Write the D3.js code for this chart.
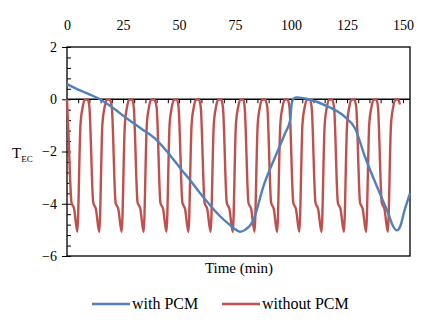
<!DOCTYPE html>
<html>
<head>
<meta charset="utf-8">
<script src="https://cdn.jsdelivr.net/npm/d3@7"></script>
<style>
  body { margin: 0; background: #fff; }
  svg text { font-family: "Liberation Serif", "Times New Roman", serif; fill: #000; }
</style>
</head>
<body>
<svg id="chart" width="438" height="326"></svg>
<script>
// Series: with PCM (time in min, T_EC)
const timeWith = [0, 5, 10, 14.7, 20, 26.6, 33, 40, 46, 51.2, 54.9, 59, 63.8, 68, 72.8, 75.5, 77.2, 79.5,
    83.2, 87.6, 93.6, 97.3, 99.6, 100.3, 101.2, 102.5, 107.7, 116.6, 124, 128.6, 133, 139, 143.4,
    145.5, 147.2, 148.8, 150.5, 153.1];
const withPcm = [0.58, 0.37, 0.19, 0, -0.3, -0.73, -1.12, -1.56, -2.14, -2.71, -3.09, -3.55, -4.05, -4.45,
    -4.82, -5.0, -5.07, -5.0, -4.63, -3.35, -2.07, -1.31, -0.8, -0.16, 0.03, 0.07, 0, -0.28, -0.67,
    -1.12, -2.2, -3.48, -4.37, -4.85, -5.02, -4.85, -4.3, -3.6];

// Series: without PCM
const timeWithout = [0, 0.6, 2.0, 3.2, 4.6,
    6.0, 7.0, 7.9, 9.2, 10.0, 11.7, 12.9, 14.4,
    15.8, 16.8, 17.7, 19.0, 20.0, 21.7, 22.9, 24.4,
    25.8, 26.8, 27.7, 29.0, 29.8, 31.5, 32.7, 34.2,
    35.6, 36.6, 37.5, 38.8, 40.0, 41.7, 42.9, 44.4,
    45.8, 46.8, 47.7, 49.0, 49.8, 51.5, 52.7, 54.2,
    55.6, 56.6, 57.5, 58.8, 59.7, 61.4, 62.6, 64.1,
    65.5, 66.5, 67.4, 68.7, 69.6, 71.3, 72.5, 74.0,
    75.4, 76.4, 77.3, 78.6, 79.3, 81.0, 82.2, 83.7,
    85.1, 86.1, 87.0, 88.3, 89.4, 91.1, 92.3, 93.8,
    95.2, 96.2, 97.1, 98.4, 99.3, 101.0, 102.2, 103.7,
    105.1, 106.1, 107.0, 108.3, 109.2, 110.9, 112.1, 113.6,
    115.0, 116.0, 116.9, 118.2, 119.2, 120.9, 122.1, 123.6,
    125.0, 126.0, 126.9, 128.2, 129.1, 130.8, 132.0, 133.5,
    134.9, 135.9, 136.8, 138.1, 138.8, 140.5, 141.7, 143.2,
    144.6, 145.6, 146.5, 147.8, 148.6];
const withoutPcm = [0, -1.2, -3.95, -4.2, -5.07,
    -1.0, -0.3, -0.03, 0, -0.3, -3.95, -4.2, -5.08,
    -0.95, -0.3, -0.03, 0, -0.3, -3.97, -4.2, -5.07,
    -1.0, -0.3, -0.03, 0, -0.3, -3.95, -4.18, -5.08,
    -1.0, -0.3, -0.03, 0, -0.3, -3.96, -4.2, -5.07,
    -0.95, -0.3, -0.03, 0, -0.3, -3.95, -4.2, -5.08,
    -1.0, -0.3, -0.03, 0, -0.3, -3.96, -4.2, -5.07,
    -1.0, -0.3, -0.03, 0, -0.3, -3.95, -4.2, -5.08,
    -0.95, -0.3, -0.03, 0, -0.3, -3.96, -4.2, -5.07,
    -1.0, -0.3, -0.03, 0, -0.3, -3.95, -4.2, -5.08,
    -1.0, -0.3, -0.03, 0, -0.3, -3.96, -4.2, -5.07,
    -0.95, -0.3, -0.03, 0, -0.3, -3.95, -4.2, -5.08,
    -1.0, -0.3, -0.03, 0, -0.3, -3.96, -4.2, -5.07,
    -1.0, -0.3, -0.03, 0, -0.3, -3.95, -4.2, -5.08,
    -0.95, -0.3, -0.03, 0, -0.3, -3.96, -4.2, -5.07,
    -1.0, -0.3, -0.03, 0, -0.2];

// Tick labels
const xTicks = [0, 25, 50, 75, 100, 125, 150];
const yTicks = [2, 0, -2, -4, -6];
const legendNames = ["with PCM", "without PCM"];
const colors = ["#4F81BD", "#C0504D"];

const svg = d3.select("#chart");
const margin = { top: 47, right: 28, bottom: 70, left: 67 };
const width = 438 - margin.left - margin.right;
const height = 326 - margin.top - margin.bottom;

const x = d3.scaleLinear().domain([0, 153.1]).range([0, width]);
const y = d3.scaleLinear().domain([-6, 2]).range([height, 0]);

const g = svg.append("g").attr("transform", "translate(" + margin.left + "," + margin.top + ")");

// plot area border
g.append("rect")
    .attr("width", width).attr("height", height)
    .attr("fill", "none").attr("stroke", "#000").attr("stroke-width", 1.3);

// y axis: major ticks outside, minor ticks inside
g.append("g")
    .call(d3.axisLeft(y).tickValues(yTicks).tickSize(5).tickPadding(5).tickFormat(d3.format("d")))
    .call(a => a.select(".domain").remove())
    .call(a => a.selectAll("text").attr("font-size", "14px").attr("font-family", "Liberation Serif"));
g.append("g")
    .call(d3.axisRight(y).tickValues(d3.range(-6, 2.01, 0.4)).tickSize(4).tickFormat(""))
    .call(a => a.select(".domain").remove());

// x axis crossing at 0, ticks pointing down
g.append("g")
    .attr("transform", "translate(0," + y(0) + ")")
    .call(d3.axisBottom(x).tickValues(d3.range(0, 151, 5)).tickSize(4).tickFormat("").tickSizeOuter(0))
    .call(a => a.select(".domain").attr("stroke-width", 1.3).attr("d", "M0,0H" + width));

// x labels on top
g.append("g")
    .call(d3.axisTop(x).tickValues(xTicks).tickSize(0).tickPadding(17))
    .call(a => a.select(".domain").remove())
    .call(a => a.selectAll("text").attr("font-size", "14px").attr("font-family", "Liberation Serif"));

// lines
const series = [
    timeWith.map((t, i) => [t, withPcm[i]]),
    timeWithout.map((t, i) => [t, withoutPcm[i]])
];
const line = d3.line().x(d => x(d[0])).y(d => y(d[1])).curve(d3.curveMonotoneX);

g.append("g").selectAll("path")
    .data([series[1], series[0]])
    .enter().append("path")
    .attr("d", line)
    .attr("fill", "none")
    .attr("stroke", (d, i) => i === 0 ? colors[1] : colors[0])
    .attr("stroke-width", 2.4)
    .attr("stroke-linejoin", "round");

// axis titles
svg.append("text")
    .attr("x", 239).attr("y", 273)
    .attr("text-anchor", "middle").attr("font-size", "15px")
    .text("Time (min)");

const yt = svg.append("text").attr("x", 12).attr("y", 158).attr("font-size", "15px");
yt.append("tspan").text("T");
yt.append("tspan").attr("dy", 4).attr("font-size", "9px").text("EC");

// legend
const legendX = [92, 222];
legendNames.forEach((name, i) => {
    svg.append("line")
        .attr("x1", legendX[i]).attr("x2", legendX[i] + 38)
        .attr("y1", 304).attr("y2", 304)
        .attr("stroke", colors[i]).attr("stroke-width", 2.4);
    svg.append("text")
        .attr("x", legendX[i] + 40).attr("y", 309)
        .attr("font-size", "16px")
        .text(name);
});
</script>
</body>
</html>
